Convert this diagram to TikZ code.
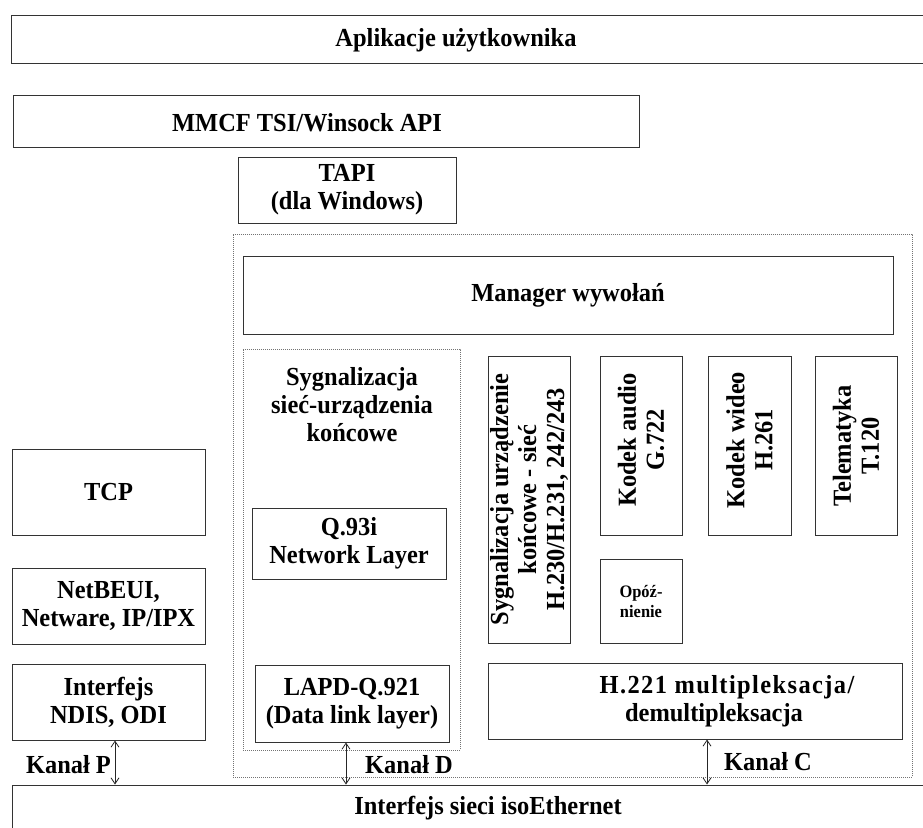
\documentclass[tikz,border=0pt]{standalone}
\usepackage{fontspec}
\setmainfont{Liberation Serif}[FakeStretch=0.94]
\usetikzlibrary{arrows.meta}
\begin{document}
\begin{tikzpicture}[x=1pt,y=-1pt,
  blk/.style 2 args={draw=black!80, line width=1pt, fill=white, inner sep=0pt,
    minimum width=#1pt, minimum height=#2pt},
  zone/.style 2 args={draw=black!55, line width=0.6pt, dash pattern=on 0.8pt off 1.2pt,
    inner sep=0pt, minimum width=#1pt, minimum height=#2pt},
  txt/.style={font=\fontsize{26}{28}\selectfont\bfseries, align=center, inner sep=0pt},
  smalltxt/.style={font=\fontsize{17.5}{20}\selectfont\bfseries, align=center, inner sep=0pt},
  vtxt/.style={txt, rotate=90},
  channel/.style={draw=black!85, line width=0.8pt,
    {Straight Barb[length=6pt,width=8pt]}-{Straight Barb[length=6pt,width=8pt]}}
]
\clip (0,0) rectangle (923,827);
\fill[white] (0,0) rectangle (923,827);

% application layers
\node[blk={924}{48}] (app) at (473,39) {};
\node[txt] (apptxt) at (456,40) {Aplikacje użytkownika};
\node[blk={626}{52}] (mmcf) at (326,121) {};
\node[txt] (mmcftxt) at (307,123) {MMCF TSI/Winsock API};
\node[blk={218}{66}, txt] (tapi) at (347,190) {TAPI\\(dla Windows)};

% call-control area
\node[zone={679}{543}] (cc) at (572.5,505.5) {};
\node[blk={650}{78}, txt] (mgr) at (568,295) {Manager wywołań};

% network-terminal signalling group
\node[zone={217}{401}] (sig) at (351.5,549.5) {};
\node[txt] (sigtxt) at (352,405) {Sygnalizacja\\sieć-urządzenia\\końcowe};
\node[blk={194}{71}, txt] (q93) at (349,543.5) {Q.93i\\Network Layer};
\node[blk={194}{77}, txt] (lapd) at (352,703.5) {LAPD-Q.921\\(Data link layer)};

% terminal-network signalling and codecs
\node[blk={82}{287}] (term) at (529,499.5) {};
\node[vtxt] (termtxt) at (term) {Sygnalizacja urządzenie\\końcowe - sieć\\H.230/H.231, 242/243};
\node[blk={82}{179}] (audio) at (641,445.5) {};
\node[vtxt] (audiotxt) at (641,440) {Kodek audio\\G.722};
\node[blk={83}{179}] (video) at (749.5,445.5) {};
\node[vtxt] (videotxt) at (749.5,440) {Kodek wideo\\H.261};
\node[blk={82}{179}] (tele) at (856,445.5) {};
\node[vtxt] (teletxt) at (856,446) {Telematyka\\T.120};
\node[blk={82}{84}, smalltxt] (delay) at (641,601) {Opóź-\\nienie};
\node[blk={414}{76}] (mux) at (695,701) {};
\node[txt] (muxtxt) at (727,701)
  {{\addfontfeature{LetterSpace=5.4}H.221 multipleksacja/}\\demultipleksacja\hspace*{26pt}};

% packet stack
\node[blk={193}{86}, txt] (tcp) at (108.5,492) {TCP};
\node[blk={193}{76}, txt] (net) at (108.5,606) {NetBEUI,\\Netware, IP/IPX};
\node[blk={193}{76}, txt] (ndis) at (108.5,702) {Interfejs\\NDIS, ODI};

% physical interface
\node[blk={960}{60}] (iso) at (492,815) {};
\node[txt] (isotxt) at (488,808) {Interfejs sieci isoEthernet};

% channels
\draw[channel] ([xshift=6.5pt]ndis.south) -- ([xshift=6.5pt]ndis.south |- iso.north);
\draw[channel] ([xshift=-6pt]lapd.south) -- ([xshift=-6pt]lapd.south |- iso.north);
\draw[channel] ([xshift=12pt]mux.south) -- ([xshift=12pt]mux.south |- iso.north);
\node[txt] (kp) at (68.5,765) {Kanał P};
\node[txt] (kd) at (409,765) {Kanał D};
\node[txt] (kc) at (768,762) {Kanał C};
\end{tikzpicture}
\end{document}
